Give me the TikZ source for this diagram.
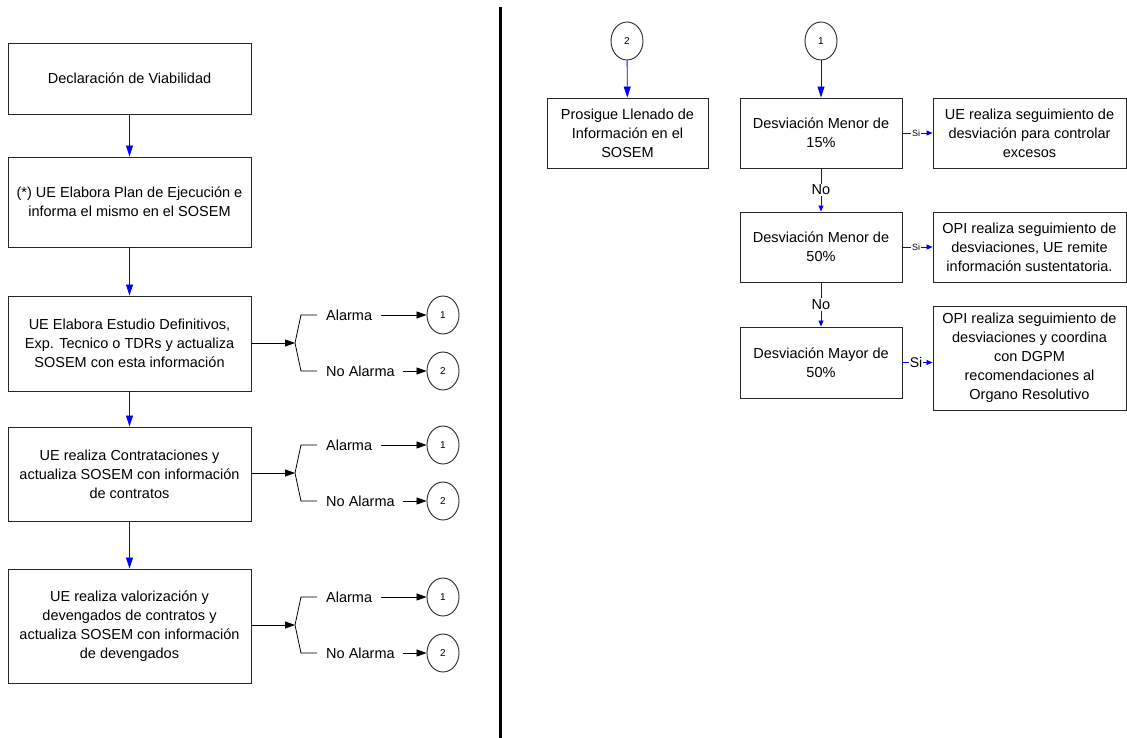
\documentclass[tikz,border=0pt]{standalone}
\usepackage{fontspec}
\setmainfont{Liberation Sans}
\usetikzlibrary{shapes.geometric,arrows.meta}
\begin{document}
\begin{tikzpicture}[x=1pt,y=-1pt,
 box/.style={draw=black!85, line width=0.9pt, align=center, font=\fontsize{14.5}{19}\selectfont, inner sep=2pt},
 conn/.style={ellipse, draw=black!85, line width=0.9pt, minimum width=32pt, minimum height=38pt, inner sep=0pt, font=\fontsize{10}{12}\selectfont},
 blu/.style={draw=blue, line width=0.8pt, -{Triangle[length=11pt,width=7pt]}, blue},
 blus/.style={draw=blue, line width=0.8pt, -{Triangle[length=6pt,width=5pt]}, blue},
 blk/.style={draw=black, line width=0.8pt, -{Triangle[length=10pt,width=7pt]}},
 brk/.style={draw=black, line width=0.8pt},
 lbl/.style={font=\fontsize{14.5}{17}\selectfont, inner sep=1pt, anchor=west},
 mid/.style={fill=white, text=black, inner sep=1pt},
]
\useasboundingbox (0,0) rectangle (1127,738);

% divider
\draw[line width=3.5pt] (500.5,7) -- (500.5,738);

% left column
\node[box, minimum width=243pt, minimum height=71pt] (b1) at (129.5,78.5) {Declaración de Viabilidad};
\node[box, minimum width=243pt, minimum height=90pt] (b2) at (129.5,202) {(*) UE Elabora Plan de Ejecución e\\informa el mismo en el SOSEM};
\node[box, minimum width=243pt, minimum height=95pt] (b3) at (129.5,343.5) {UE Elabora Estudio Definitivos,\\Exp. Tecnico o TDRs y actualiza\\SOSEM con esta información};
\node[box, minimum width=243pt, minimum height=94pt] (b4) at (129.5,474) {UE realiza Contrataciones y\\actualiza SOSEM con información\\de contratos};
\node[box, minimum width=243pt, minimum height=114pt] (b5) at (129.5,626) {UE realiza valorización y\\devengados de contratos y\\actualiza SOSEM con información\\de devengados};

\draw[blu] (b1) -- (b2);
\draw[blu] (b2) -- (b3);
\draw[blu] (b3) -- (b4);
\draw[blu] (b4) -- (b5);

% forks
\foreach \i/\yc in {3/343,4/473,5/625}{
  \coordinate (f\i) at (295,\yc);
  \node[lbl] (a\i) at (325,\yc-28) {Alarma};
  \node[lbl] (n\i) at (325,\yc+28) {No Alarma};
  \node[conn] (ca\i) at (443,\yc-28) {1};
  \node[conn] (cb\i) at (443,\yc+28) {2};
  \draw[blk] (b\i.east |- f\i) -- (f\i);
  \draw[brk] (f\i) -- ++(6,-28) -- ++(16,0);
  \draw[brk] (f\i) -- ++(6,28) -- ++(16,0);
  \draw[blk, shorten <=8pt] (a\i.east) -- (ca\i.west);
  \draw[blk, shorten <=7pt] (n\i.east) -- (cb\i.west);
}

% right column
\node[conn] (rc2) at (627,41) {2};
\node[box, minimum width=161pt, minimum height=70pt] (p) at (627.5,133) {Prosigue Llenado de\\Información en el\\SOSEM};
\draw[blu] (rc2) -- (p);

\node[conn] (rc1) at (821,41) {1};
\node[box, minimum width=162pt, minimum height=70pt] (d1) at (821,133) {Desviación Menor de\\15\%};
\node[box, minimum width=162pt, minimum height=70pt] (d2) at (821,247) {Desviación Menor de\\50\%};
\node[box, minimum width=162pt, minimum height=71pt] (d3) at (821,362.5) {Desviación Mayor de\\50\%};
\node[box, minimum width=193pt, minimum height=70pt] (s1) at (1029.5,133) {UE realiza seguimiento de\\desviación para controlar\\excesos};
\node[box, minimum width=193pt, minimum height=70pt] (s2) at (1029.5,247) {OPI realiza seguimiento de\\desviaciones, UE remite\\información sustentatoria.};
\node[box, minimum width=193pt, minimum height=104pt] (s3) at (1029.5,358) {OPI realiza seguimiento de\\desviaciones y coordina\\con DGPM\\recomendaciones al\\Organo Resolutivo};

\draw[blu] (rc1) -- (d1);
\draw[blus] (d1) -- node[mid, font=\fontsize{14.5}{17}\selectfont]{No} (d2);
\draw[blus] (d2) -- node[mid, font=\fontsize{14.5}{17}\selectfont]{No} (d3);
\draw[blus] (d1) -- node[mid, font=\fontsize{9}{10}\selectfont, pos=0.45]{Si} (s1);
\draw[blus] (d2) -- node[mid, font=\fontsize{9}{10}\selectfont, pos=0.45]{Si} (s2);
\draw[blus] (d3.east) -- node[mid, font=\fontsize{14}{16}\selectfont, pos=0.45]{Si} (d3.east -| s3.west);
\end{tikzpicture}
\end{document}
